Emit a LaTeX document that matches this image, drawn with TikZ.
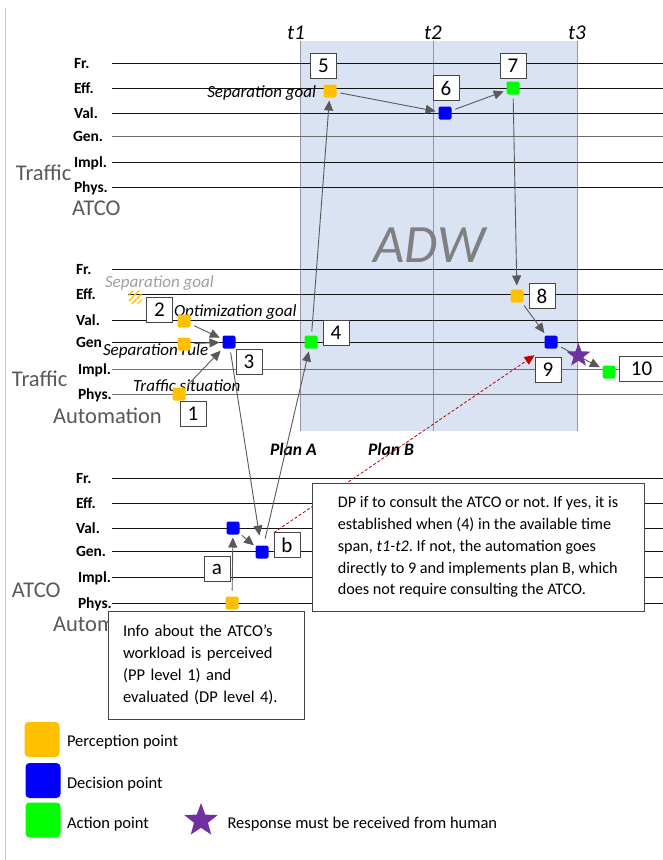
\documentclass[tikz,border=0pt]{standalone}
\usepackage{fontspec}
\setmainfont{Carlito}
\usepackage{tikz}
\usetikzlibrary{arrows.meta,shapes.geometric,patterns.meta}
\frenchspacing

\begin{document}
\begin{tikzpicture}[x=1pt,y=-1pt,
  lvl/.style={inner sep=0pt,outer sep=0pt,anchor=base west,font=\bfseries\fontsize{15.5}{18.6}\selectfont},
  lane/.style={inner sep=0pt,outer sep=0pt,anchor=base west,text={rgb,255:red,89;green,89;blue,89},font=\fontsize{22.5}{27}\selectfont},
  rail/.style={draw={rgb,255:red,20;green,20;blue,20},line width=0.8pt},
  tline/.style={draw={rgb,255:red,150;green,150;blue,150},line width=0.8pt},
  tlab/.style={inner sep=0pt,outer sep=0pt,anchor=base,font=\itshape\fontsize{21}{25}\selectfont},
  note/.style={inner sep=0pt,outer sep=0pt,font=\itshape\fontsize{17}{20.4}\selectfont},
  planlab/.style={inner sep=0pt,outer sep=0pt,anchor=base west,font=\bfseries\itshape\fontsize{17.5}{21}\selectfont},
  ptbox/.style={inner sep=0pt,outer sep=0pt,minimum size=13pt,rounded corners=2pt},
  perc/.style={ptbox,fill={rgb,255:red,255;green,192;blue,0}},
  deci/.style={ptbox,fill={rgb,255:red,0;green,0;blue,255}},
  acti/.style={ptbox,fill={rgb,255:red,0;green,255;blue,0}},
  numbox/.style={draw={rgb,255:red,70;green,70;blue,70},fill=white,line width=0.8pt,inner sep=0pt,outer sep=0pt,minimum width=26pt,minimum height=25pt,font=\fontsize{21}{25}\selectfont},
  textbox/.style={draw={rgb,255:red,70;green,70;blue,70},fill=white,line width=0.8pt,inner sep=0pt,outer sep=0pt,align=left,font=\fontsize{16.2}{21.8}\selectfont},
  conn/.style={draw={rgb,255:red,89;green,89;blue,89},line width=0.9pt,-{Triangle[length=10pt,width=9pt]},shorten <=4pt,shorten >=3pt},
  planb/.style={draw={rgb,255:red,192;green,0;blue,0},line width=0.8pt,dash pattern=on 3pt off 2pt,-{Triangle[length=10pt,width=9pt]}},
  human/.style={star,star points=5,star point ratio=2.4,inner sep=0pt,outer sep=0pt,fill={rgb,255:red,112;green,48;blue,160}},
  legtext/.style={inner sep=0pt,outer sep=0pt,anchor=base west,font=\fontsize{16.5}{19.8}\selectfont}]
\path[use as bounding box] (0,0) rectangle (663,860);
\path[fill=white,draw=none] (0,0) rectangle (663,860);
\draw[draw={rgb,255:red,200;green,200;blue,200},line width=0.8pt] (5,8) -- (5,860);
\path[fill={rgb,255:red,218;green,227;blue,243},draw=none] (300,41) rectangle (577,431);
\draw[tline] (300,41) -- (300,431);
\draw[tline] (433,41) -- (433,431);
\draw[tline] (577,41) -- (577,431);
\node[tlab] (t1) at (296,39) {t1};
\node[tlab] (t2) at (433,39) {t2};
\node[tlab] (t3) at (577,39) {t3};
\node[inner sep=0pt,outer sep=0pt,anchor=base west,text={rgb,255:red,128;green,128;blue,128},font=\itshape\fontsize{54}{64}\selectfont] (adw) at (373,262) {ADW};

\draw[rail] (112,63) -- (663,63);
\draw[rail] (112,88) -- (663,88);
\draw[rail] (112,113) -- (663,113);
\draw[rail,draw={rgb,255:red,110;green,110;blue,110}] (112,136) -- (663,136);
\draw[rail] (112,162) -- (663,162);
\draw[rail] (112,187) -- (663,187);
\node[lvl] (frA) at (74,68) {Fr.};
\node[lvl] (effA) at (74,93) {Eff.};
\node[lvl] (valA) at (74,118) {Val.};
\node[lvl] (genA) at (73,141.5) {Gen.};
\node[lvl] (implA) at (74,167) {Impl.};
\node[lvl] (physA) at (74,192) {Phys.};
\node[lane] (trafA) at (16,180) {Traffic};
\node[lane] (atcoA) at (72,215) {ATCO};

\draw[rail] (112,269) -- (663,269);
\draw[rail] (128,294) -- (663,294);
\draw[rail] (112,320) -- (663,320);
\draw[rail] (112,342) -- (663,342);
\draw[rail,draw={rgb,255:red,110;green,110;blue,110}] (112,369) -- (663,369);
\draw[rail,draw={rgb,255:red,110;green,110;blue,110}] (112,394) -- (663,394);
\node[lvl] (frB) at (76,274) {Fr.};
\node[lvl] (effB) at (76,299) {Eff.};
\node[lvl] (valB) at (76,325) {Val.};
\node[lvl] (genB) at (76,347) {Gen};
\node[lvl] (implB) at (78,374) {Impl.};
\node[lvl] (physB) at (78,399) {Phys.};
\node[lane] (trafB) at (12,386) {Traffic};
\node[lane] (autoB) at (53,423) {Automation};

\draw[rail] (112,478) -- (663,478);
\draw[rail] (112,503) -- (663,503);
\draw[rail] (112,528) -- (663,528);
\draw[rail] (112,551) -- (663,551);
\draw[rail] (112,577) -- (663,577);
\draw[rail] (112,603) -- (663,603);
\node[lvl] (frC) at (76,483) {Fr.};
\node[lvl] (effC) at (76,508) {Eff.};
\node[lvl] (valC) at (76,533) {Val.};
\node[lvl] (genC) at (76,556) {Gen.};
\node[lvl] (implC) at (78,582) {Impl.};
\node[lvl] (physC) at (78,608) {Phys.};
\node[lane] (atcoC) at (12,597) {ATCO};
\node[lane] (autoC) at (53,631.5) {Automation};

\node[planlab] (plana) at (270,455) {Plan A};
\node[planlab] (planb) at (368,455) {Plan B};

\node[note,anchor=base east] (sepgoal) at (316,97.5) {Separation goal};
\node[note,anchor=base west,text={rgb,255:red,160;green,160;blue,160}] (sepgoalold) at (105,287) {Separation goal};
\node[note,anchor=base west] (optgoal) at (174,316) {Optimization goal};
\node[note,anchor=base west] (seprule) at (103,355.5) {Separation rule};
\node[note,anchor=base west] (trafsit) at (133,391.5) {Traffic situation};

\node[ptbox,pattern={Lines[angle=45,distance=4pt,line width=1.7pt]},pattern color={rgb,255:red,255;green,192;blue,0}] (ph) at (135,297) {};
\node[perc] (p5) at (330,91) {};
\node[deci] (p6) at (445,113) {};
\node[acti] (p7) at (513,88) {};
\node[perc] (p2) at (184,321) {};
\node[perc] (pr) at (184,344) {};
\node[deci] (p3) at (229,342) {};
\node[perc] (p1) at (179,394) {};
\node[acti] (p4) at (311,342) {};
\node[perc] (p8) at (517,296) {};
\node[deci] (p9) at (551,342) {};
\node[acti] (p10) at (609,372) {};
\node[deci] (pv) at (233,528) {};
\node[deci] (pb) at (262,552) {};
\node[perc] (po) at (232,603) {};

\node[numbox] (n5) at (323.5,66) {5};
\node[numbox] (n6) at (446,88) {6};
\node[numbox] (n7) at (513,66) {7};
\node[numbox] (n2) at (159.5,309.5) {2};
\node[numbox] (n3) at (249,362) {3};
\node[numbox] (n1) at (193,414) {1};
\node[numbox] (n4) at (336,333) {4};
\node[numbox] (n8) at (542,296) {8};
\node[numbox] (n9) at (548,370) {9};
\node[numbox,minimum width=45pt] (n10) at (641.5,369) {10};
\node[numbox] (na) at (217,569) {a};
\node[numbox] (nb) at (287,545) {b};

\draw[conn] (p5) -- (p6);
\draw[conn] (p6) -- (p7);
\draw[conn,shorten >=4pt] (p7) -- (p8);
\draw[conn] (p4) -- (p5);
\draw[conn] (p2) -- (p3);
\draw[conn] (pr) -- (p3);
\draw[conn] (p1) -- (p3);
\draw[conn,shorten >=10pt] (p3) -- (pb);
\draw[conn,shorten <=7pt] (pb) -- (p4);
\draw[conn] (p8) -- (p9);
\draw[conn] (p9) -- (p10);
\draw[conn,shorten <=6pt] (po) -- (pv);
\draw[conn,shorten <=3pt,shorten >=2pt] (pv) -- (pb);
\draw[planb,shorten >=12pt] (nb.north west) -- (p9.south west);

\node[human,minimum size=25pt] (star) at (578.5,355.5) {};

\node[textbox,minimum width=332pt,minimum height=128pt] (dpnote) at (478,547) {DP if to consult the ATCO or not. If yes, it is\\established when (4) in the available time\\span, \textit{t1-t2}. If not, the automation goes\\directly to 9 and implements plan B, which\\does not require consulting the ATCO.};
\node[textbox,text width=166pt,inner xsep=15pt,font=\fontsize{16.5}{21.8}\selectfont,minimum height=108pt] (ppnote) at (206,665) {Info about the ATCO’s\\workload is perceived\\(PP level 1) and\\evaluated (DP level 4).};

\node[perc,minimum size=35pt,rounded corners=4pt] (legpp) at (42,739.5) {};
\node[deci,minimum size=35pt,rounded corners=4pt] (legdp) at (43,780.5) {};
\node[acti,minimum size=35pt,rounded corners=4pt] (legap) at (43,820) {};
\node[human,minimum size=35pt] (legstar) at (201,820.5) {};
\node[legtext] (legpptext) at (67,746.5) {Perception point};
\node[legtext] (legdptext) at (67,788) {Decision point};
\node[legtext] (legaptext) at (67,828) {Action point};
\node[legtext] (legstartext) at (227.5,828) {Response must be received from human};
\end{tikzpicture}
\end{document}
